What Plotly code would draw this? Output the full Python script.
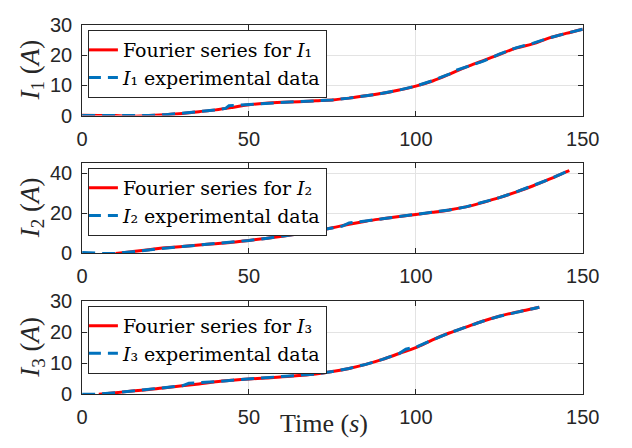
import plotly.graph_objects as go
from plotly.subplots import make_subplots

# ---------------- data ----------------
# I1
t1_fit = [0, 5, 10, 15, 20, 25, 30, 35, 40, 45, 50, 55, 60, 65, 70, 75, 80, 85, 90, 95,
          100, 105, 110, 115, 120, 125, 130, 135, 140, 145, 150]
i1_fit = [0.1, 0.05, 0, -0.2, 0, 0.3, 0.7, 1.3, 1.9, 2.7, 3.6, 4.1, 4.4, 4.6, 4.9, 5.2, 5.8, 6.6, 7.4, 8.5,
          9.8, 11.5, 13.7, 16.1, 18.2, 20.3, 22.4, 23.8, 25.8, 27.3, 28.7]
t1_exp = [0, 5, 10, 15, 20, 25, 30, 35, 40, 43, 44, 47, 50, 55, 60, 65, 70, 75, 80, 85, 90, 95,
          100, 105, 110, 112, 115, 120, 125, 128, 130, 135, 140, 145, 150]
i1_exp = [0, 0, 0, 0, 0.05, 0.3, 0.7, 1.3, 1.9, 2.4, 3.3, 3.5, 3.8, 4.2, 4.5, 4.7, 4.9, 5.2, 5.8, 6.6, 7.4, 8.5,
          9.8, 11.6, 13.8, 15.0, 16.1, 18.0, 20.4, 21.8, 22.5, 24.0, 25.8, 27.3, 28.7]

# I2
t2_fit = [10, 15, 20, 25, 30, 35, 40, 45, 50, 55, 60, 65, 70, 75, 80, 85, 90, 95, 100,
          105, 110, 115, 120, 125, 130, 135, 140, 145, 146]
i2_fit = [0, 0.9, 1.9, 2.8, 3.5, 4.2, 4.9, 5.6, 6.5, 7.5, 8.6, 9.8, 11.2, 12.8, 14.6, 16.1, 17.3, 18.4, 19.4,
          20.5, 21.7, 23.2, 25.4, 27.8, 30.6, 33.6, 37.0, 40.6, 41.3]
t2_exp = [0, 3, 6, 10, 15, 20, 25, 30, 35, 40, 45, 50, 55, 60, 65, 70, 75, 78, 80, 83, 85, 90, 95, 100,
          105, 110, 115, 120, 125, 130, 135, 140, 145, 146]
i2_exp = [0.5, 0.2, 0, 0, 0.9, 1.9, 2.8, 3.5, 4.2, 4.9, 5.6, 6.5, 7.5, 8.6, 9.8, 11.2, 12.8, 13.6, 15.2, 15.6, 16.2, 17.3, 18.4, 19.4,
          20.5, 21.7, 23.2, 25.4, 27.8, 30.6, 33.6, 37.0, 40.6, 41.3]

# I3
t3_fit = [5, 10, 15, 20, 25, 30, 35, 40, 45, 50, 55, 60, 65, 70, 75, 80, 85, 90, 95, 100,
          105, 110, 115, 120, 125, 130, 135, 137]
i3_fit = [0, 0.5, 1.0, 1.5, 2.1, 2.7, 3.3, 4.0, 4.5, 4.9, 5.2, 5.6, 6.0, 6.5, 7.3, 8.3, 9.6, 11.2, 13.1, 15.0,
          17.5, 19.7, 21.6, 23.5, 25.1, 26.4, 27.5, 28.0]
t3_exp = [0, 4, 10, 15, 20, 25, 30, 32, 35, 40, 45, 50, 55, 60, 65, 70, 75, 80, 85, 90, 95, 97, 99, 100,
          105, 110, 115, 120, 125, 130, 135, 137]
i3_exp = [0, 0, 0.5, 1.0, 1.5, 2.1, 2.7, 3.5, 3.6, 4.0, 4.5, 4.9, 5.2, 5.6, 6.0, 6.5, 7.3, 8.3, 9.6, 11.2, 13.1, 14.5, 15.0, 15.1,
          17.5, 19.7, 21.6, 23.5, 25.1, 26.4, 27.5, 28.0]

x_ticks = [0, 50, 100, 150]
y_ticks = [[0, 10, 20, 30], [0, 20, 40], [0, 10, 20, 30]]
y_ranges = [[0, 30], [0, 45], [0, 30]]
subs = ["1", "2", "3"]
subs_uni = ["\u2081", "\u2082", "\u2083"]

# ---------------- figure ----------------
W, H = 632, 448
RED = "#FF0000"
BLUE = "#0072BD"
AX = "#262626"
SERIF = "Liberation Serif, Times New Roman, serif"
LEGSERIF = "DejaVu Serif, serif"

fig = make_subplots(rows=3, cols=1)

series = [(t1_fit, i1_fit, t1_exp, i1_exp), (t2_fit, i2_fit, t2_exp, i2_exp), (t3_fit, i3_fit, t3_exp, i3_exp)]
legend_names = ["legend", "legend2", "legend3"]

for k, (tf, yf, te, ye) in enumerate(series):
    sub = subs_uni[k]
    fig.add_trace(go.Scatter(x=tf, y=yf, mode="lines", line=dict(color=RED, width=3, shape="spline"),
                             name="Fourier series for <i>I</i>%s" % sub,
                             legend=legend_names[k]), row=k + 1, col=1)
    fig.add_trace(go.Scatter(x=te, y=ye, mode="lines", line=dict(color=BLUE, width=3, dash="13px,7px"),
                             name="<i>I</i>%s experimental data" % sub,
                             legend=legend_names[k]), row=k + 1, col=1)

# panel positions in pixels (top, bottom)
panels = [(15, 110), (160, 255), (305, 403)]
x0, x1 = 79, 598.5

axis_common = dict(showline=True, linecolor=AX, linewidth=1, mirror="allticks",
                   ticks="inside", ticklen=5, tickcolor=AX, showgrid=True,
                   gridcolor="#e3e3e3", gridwidth=1, zeroline=False, ticklabelstandoff=5,
                   tickfont=dict(family="Liberation Sans, Arial", size=20, color=AX))

for k, (top, bot) in enumerate(panels):
    suffix = "" if k == 0 else str(k + 1)
    fig.layout["xaxis" + suffix].update(domain=[x0 / W, x1 / W], range=[0, 150],
                                        tickvals=x_ticks, **axis_common)
    fig.layout["yaxis" + suffix].update(domain=[1 - bot / H, 1 - top / H], range=y_ranges[k],
                                        tickvals=y_ticks[k], **axis_common)
    leg = dict(x=85 / W, y=1 - (top + 5) / H, xanchor="left", yanchor="top",
               bgcolor="white", bordercolor=AX, borderwidth=1,
               font=dict(family=LEGSERIF, size=19, color="black"),
               itemwidth=30, tracegroupgap=0, indentation=-6)
    fig.layout[legend_names[k]] = leg
    # y-axis label
    fig.add_annotation(text="<i>I</i><sub>%s</sub> (<i>A</i>)" % subs[k], textangle=-90,
                       x=27 / W, y=1 - ((top + bot) / 2) / H, xref="paper", yref="paper",
                       xanchor="center", yanchor="middle", showarrow=False,
                       font=dict(family=SERIF, size=27, color=AX))

fig.add_annotation(text="Time (<i>s</i>)", x=330 / W, y=1 - 434 / H, xref="paper", yref="paper",
                   xanchor="center", yanchor="middle", showarrow=False,
                   font=dict(family=SERIF, size=26, color=AX))

fig.update_layout(width=W, height=H, margin=dict(l=0, r=0, t=0, b=0),
                  paper_bgcolor="white", plot_bgcolor="white", showlegend=True)

fig.write_html("out.html")
